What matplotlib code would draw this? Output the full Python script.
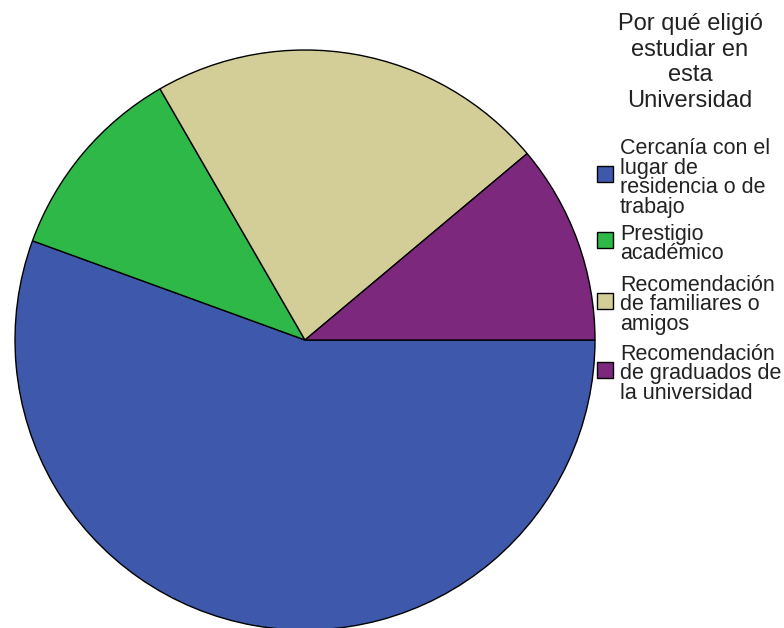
import numpy as np
import matplotlib.pyplot as plt
from matplotlib.patches import Rectangle

plt.rcParams['font.family'] = ['Liberation Sans', 'DejaVu Sans']

# data (counts)
labels = ["Cercanía con el\nlugar de\nresidencia o de\ntrabajo",
          "Prestigio\nacadémico",
          "Recomendación\nde familiares o\namigos",
          "Recomendación\nde graduados de\nla universidad"]
counts = [25, 5, 10, 5]
colors = ["#3E58AC", "#2EB848", "#D3CE97", "#7C287D"]
legend_title = "Por qué eligió\nestudiar en\nesta\nUniversidad"

W, H = 784, 628
fig = plt.figure(figsize=(W / 100, H / 100), dpi=100)

# pie: centre (305, 340) px, radius 290 px
cx, cy, r = 305, 340, 290
ax = fig.add_axes([(cx - r) / W, (H - cy - r) / H, 2 * r / W, 2 * r / H])
ax.pie(counts, colors=colors, startangle=0, counterclock=False,
       wedgeprops=dict(edgecolor="black", linewidth=1.0))
ax.set_aspect("equal")
ax.set_xlim(-1, 1)
ax.set_ylim(-1, 1)

# legend, drawn by hand
fig.text(690 / W, 1 - 13 / H, legend_title, ha="center", va="top",
         fontsize=17, linespacing=1.22, color="#222222")
swatch_y = [174, 240, 301, 370]
for lab, col, sy in zip(labels, colors, swatch_y):
    fig.patches.append(Rectangle((597 / W, 1 - (sy + 8) / H), 16 / W, 16 / H,
                                 facecolor=col, edgecolor="black", linewidth=1.0,
                                 transform=fig.transFigure))
    fig.text(620 / W, 1 - (sy + 4) / H, lab, ha="left", va="center",
             fontsize=15.5, linespacing=0.9, color="#222222")

fig.savefig("out.png", dpi=100)
